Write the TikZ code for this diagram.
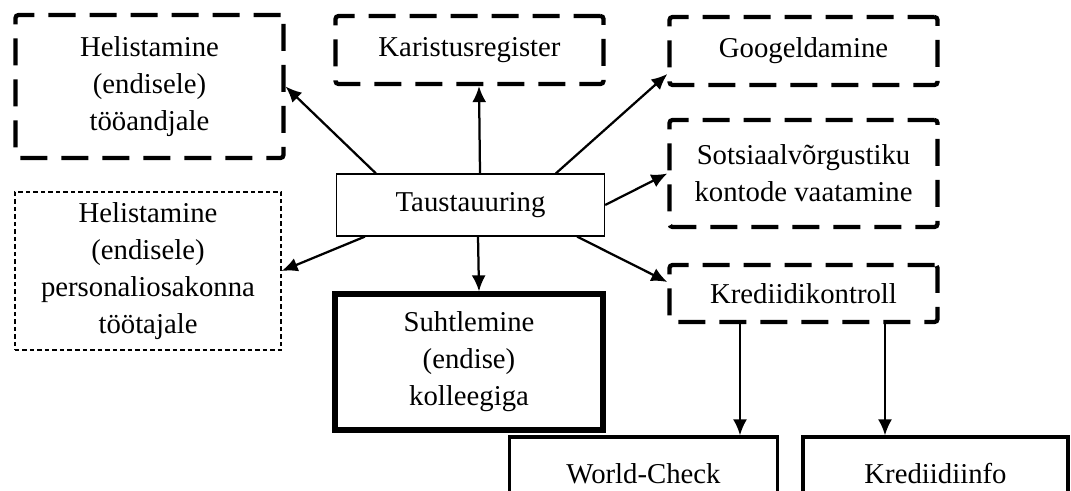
\documentclass[tikz,border=0pt]{standalone}
\usepackage{fontspec}
\setmainfont{Liberation Serif}
\usetikzlibrary{positioning,arrows.meta}
\begin{document}
\begin{tikzpicture}[x=0.4pt,y=-0.4pt,font=\fontsize{11.5}{14.8}\selectfont]
      \tikzstyle{box}=[align=center,inner sep=0pt,minimum width=107.2pt]
      \tikzstyle{dashbox}=[box,draw,line width=1.7pt,rounded corners=1.2pt,dash pattern=on 10.8pt off 5.6pt]
      \tikzstyle{thinbox}=[box,draw,line width=0.5pt]
      \tikzstyle{dotbox}=[box,draw,line width=0.5pt,dash pattern=on 1.8pt off 1.2pt]
      \tikzstyle{boldbox}=[box,draw,line width=2.1pt]
      \tikzstyle{endbox}=[box,draw,line width=1.3pt]
      \tikzstyle{link}=[-{Latex[length=6.4pt,width=5.6pt]},line width=0.9pt]
      \useasboundingbox (0,0) rectangle (1071,491);

      \node[dashbox,minimum height=57.2pt] (A) at (149.5,86.5) {Helistamine\\(endisele)\\tööandjale};
      \node[dashbox,minimum height=27.2pt] (K) at (469.5,50) {Karistusregister};
      \node[dashbox,minimum height=27.2pt] (G) at (803.5,51) {Googeldamine};
      \node[dashbox,minimum height=42.8pt] (S) at (803.5,173.5) {Sotsiaalvõrgustiku\\kontode vaatamine};
      \node[thinbox,minimum height=24.8pt] (T) at (470.5,205) {Taustauuring};
      \node[dotbox,minimum width=106.4pt,minimum height=63.2pt] (P) at (148,271) {Helistamine\\(endisele)\\personaliosakonna\\töötajale};
      \node[boldbox,minimum height=54.4pt] (C) at (469,362) {Suhtlemine\\(endise)\\kolleegiga};
      \node[dashbox,minimum height=22.8pt] (KK) at (803.5,293.5) {Krediidikontroll};
      \node[endbox,minimum height=29.6pt] (W) at (643.5,474) {World-Check};
      \node[endbox,minimum width=106pt,minimum height=29.6pt] (KI) at (935.5,474) {Krediidiinfo};

      % from the centre box outwards
      \draw[link] ([xshift=16pt]T.north west) -- (A.east);
      \draw[link] ([xshift=3.8pt]T.north) -- ([xshift=3.8pt]K.south);
      \draw[link] ([xshift=88pt]T.north west) -- ([yshift=-9.2pt]G.west);
      \draw[link] (T.east) -- (S.west);
      \draw[link] ([xshift=-11.2pt]T.south east) -- ([yshift=4.6pt]KK.west);
      \draw[link] ([xshift=11.6pt]T.south west) -- (P.east);
      \draw[link] ([xshift=3pt]T.south) -- ([xshift=4pt]C.north);

      \draw[link] ([xshift=-25.4pt]KK.south) coordinate (kw) -- (kw |- W.north);
      \draw[link] ([xshift=32.6pt]KK.south) coordinate (ki) -- (ki |- KI.north);
    \end{tikzpicture}
\end{document}
